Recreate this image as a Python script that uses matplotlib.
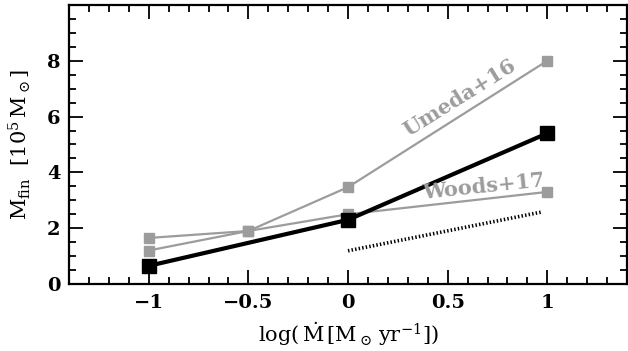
import matplotlib
matplotlib.use('Agg')
import matplotlib.pyplot as plt
from matplotlib.ticker import MultipleLocator

plt.rcParams['font.family'] = 'DejaVu Serif'
plt.rcParams['mathtext.fontset'] = 'dejavuserif'

# datos
x_umeda = [-1, -0.5, 0, 1]
y_umeda = [1.2, 1.9, 3.47, 8.0]
x_woods = [-1, -0.5, 0, 1]
y_woods = [1.65, 1.9, 2.5, 3.3]
x_este = [-1, 0, 1]
y_este = [0.65, 2.3, 5.4]
x_punt = [0, 1]
y_punt = [1.19, 2.62]

gris = '#9c9c9c'

fig = plt.figure(figsize=(6.28, 3.51), dpi=100)
ax = fig.add_axes([0.1099, 0.1909, 0.8885, 0.795])

ax.plot(x_umeda, y_umeda, color=gris, lw=1.6, marker='s', ms=7.5, mec=gris, mfc=gris)
ax.plot(x_woods, y_woods, color=gris, lw=1.6, marker='s', ms=7.5, mec=gris, mfc=gris)
ax.plot(x_este, y_este, color='black', lw=3, marker='s', ms=10, zorder=3)
ax.plot([x_punt[0], 0.97], [y_punt[0], y_punt[0] + 0.97 * (y_punt[1] - y_punt[0])],
        color='black', lw=2.6, ls=(0, (0.4, 0.6)))

ax.text(0.56, 6.68, 'Umeda+16', color=gris, fontsize=15, rotation=32,
        ha='center', va='center', fontweight='semibold')
ax.text(0.68, 3.5, 'Woods+17', color=gris, fontsize=15, rotation=6,
        ha='center', va='center', fontweight='semibold')

ax.set_xlim(-1.4, 1.4)
ax.set_ylim(0, 10)
ax.set_xticks([-1, -0.5, 0, 0.5, 1])
ax.set_xticklabels(['\u22121', '\u22120.5', '0', '0.5', '1'])
ax.set_yticks([0, 2, 4, 6, 8])
ax.xaxis.set_minor_locator(MultipleLocator(0.1))
ax.yaxis.set_minor_locator(MultipleLocator(0.5))
ax.tick_params(which='both', direction='in', top=True, right=True, width=1.3, labelsize=14)
ax.tick_params(which='major', length=10)
ax.tick_params(which='minor', length=5)
ax.tick_params(axis='x', pad=7)
ax.tick_params(axis='y', pad=6)
for s in ax.spines.values():
    s.set_linewidth(1.6)
for lab in ax.get_xticklabels() + ax.get_yticklabels():
    lab.set_fontweight('semibold')

ax.set_xlabel(r'$\log(\,\dot{\mathrm{M}}\,[\mathrm{M_\odot\,yr^{-1}}])$', fontsize=15, labelpad=6)
ax.set_ylabel(r'$\mathrm{M_{fin}}\ \ [10^5\,\mathrm{M_\odot}]$', fontsize=15, labelpad=10)

plt.savefig('out.png', dpi=100)
